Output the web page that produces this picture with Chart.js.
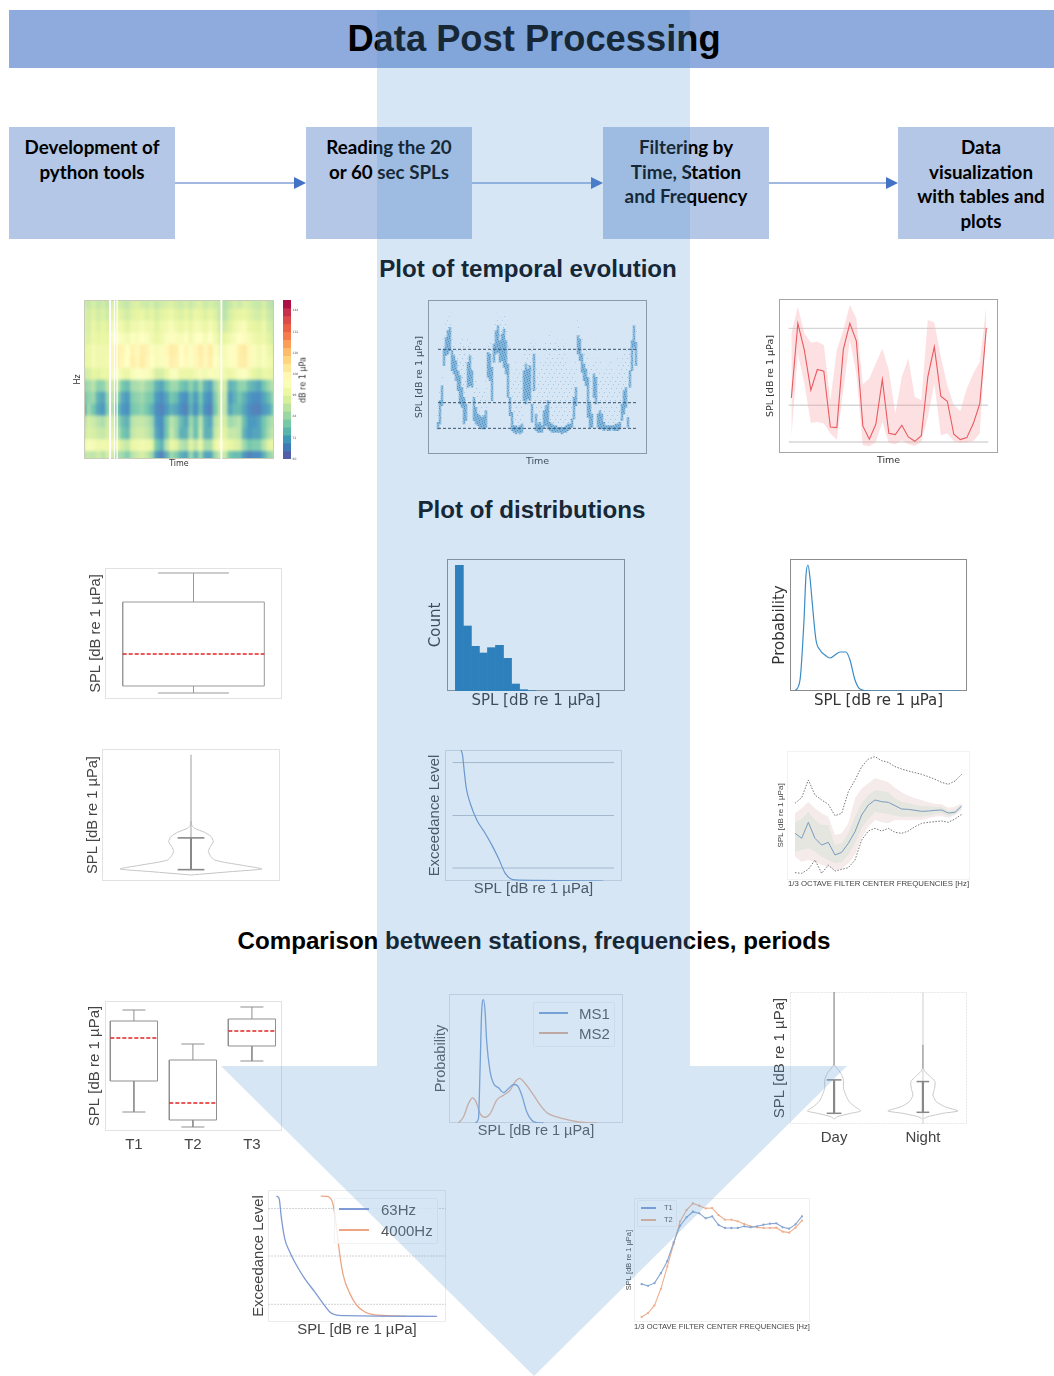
<!DOCTYPE html>
<html><head><meta charset="utf-8">
<style>
html,body{margin:0;padding:0;background:#fff;}
#page{position:relative;width:1054px;height:1376px;overflow:hidden;background:#fff;}
.abs{position:absolute;}
canvas{position:absolute;display:block;}
.bar{left:9px;top:10px;width:1045px;height:58px;background:#8faadc;}
.title{left:9px;top:10px;width:1050px;height:58px;text-align:center;font:bold 36.3px/58px "Liberation Sans";color:#000;white-space:nowrap;}
.step{background:#b4c7e7;top:127px;height:112px;font:bold 18.8px/24.5px Lato;color:#000;text-align:center;padding-top:8px;box-sizing:border-box;}
.head{font:bold 24.15px/28px "Liberation Sans";color:#000;white-space:nowrap;text-align:center;}
.rot{transform:translate(-50%,-50%) rotate(-90deg);white-space:nowrap;}
.legend{border:1px solid rgba(190,198,210,.22);box-sizing:border-box;border-radius:2px;background:rgba(255,255,255,.8);}
.lg{position:absolute;white-space:nowrap;font-family:"Liberation Sans";color:#555;line-height:1;transform:translateY(-50%);filter:blur(.35px);}
.ln{position:absolute;height:1.5px;filter:blur(.4px);}
</style>
<script src="https://cdn.jsdelivr.net/npm/chart.js@4"></script>
</head><body>
<div id="page">
  <div class="abs bar"></div>
  <div class="abs title">Data Post Processing</div>
  <div class="abs step" style="left:9px;width:166px">Development of<br>python tools</div>
  <div class="abs step" style="left:306px;width:166px">Reading the 20<br>or 60 sec SPLs</div>
  <div class="abs step" style="left:603px;width:166px">Filtering by<br>Time, Station<br>and Frequency</div>
  <div class="abs step" style="left:898px;width:166px">Data<br>visualization<br>with tables and<br>plots</div>
  <svg class="abs" style="left:0;top:0" width="1054" height="260">
    <g stroke="#4472c4" stroke-width="1.2"><line x1="175" y1="183" x2="296" y2="183"/><line x1="472" y1="183" x2="593" y2="183"/><line x1="769" y1="183" x2="888" y2="183"/></g>
    <g fill="#4472c4"><polygon points="294,177 306,183 294,189"/><polygon points="591,177 603,183 591,189"/><polygon points="886,177 898,183 886,189"/></g>
  </svg>
  <div class="abs head" style="left:0;width:1056px;top:255px">Plot of temporal evolution</div>
  <div class="abs head" style="left:0;width:1063px;top:496px">Plot of distributions</div>
  <div class="abs head" style="left:0;width:1068px;top:927px">Comparison between stations, frequencies, periods</div>
  <div class="abs rot" style="left:303px;top:380px;font:8px 'DejaVu Sans';color:#333;filter:blur(.3px)">dB re 1 µPa</div>
  <div id="chartsEnd"></div>

  <div class="abs legend" style="left:533px;top:1002px;width:82px;height:45px"></div>
  <div class="ln" style="left:539px;top:1012px;width:29px;background:#7fa3d8"></div>
  <div class="ln" style="left:539px;top:1032px;width:29px;background:#e0ab93"></div>
  <div class="lg" style="left:579px;top:1013px;font-size:15px">MS1</div>
  <div class="lg" style="left:579px;top:1033px;font-size:15px">MS2</div>

  <div class="abs legend" style="left:334px;top:1198px;width:104px;height:46px"></div>
  <div class="ln" style="left:339px;top:1208px;width:30px;background:#7f9ad4"></div>
  <div class="ln" style="left:339px;top:1229px;width:30px;background:#eda583"></div>
  <div class="lg" style="left:381px;top:1209px;font-size:15px">63Hz</div>
  <div class="lg" style="left:381px;top:1230px;font-size:15px">4000Hz</div>

  <div class="abs legend" style="left:637px;top:1200px;width:40px;height:27px"></div>
  <div class="ln" style="left:641px;top:1207px;width:15px;background:#7d9fd4"></div>
  <div class="ln" style="left:641px;top:1219px;width:15px;background:#eeb08e"></div>
  <div class="lg" style="left:664px;top:1208px;font-size:7.5px">T1</div>
  <div class="lg" style="left:664px;top:1220px;font-size:7.5px">T2</div>

  <svg class="abs" id="arrow" style="left:0;top:0;z-index:50;pointer-events:none" width="1054" height="1376">
    <polygon points="377,10 690,10 690,1066 847,1066 534,1376 221,1066 377,1066" fill="#5b9bd5" fill-opacity="0.25"/>
  </svg>
</div>
<script>
/* ---------- values ---------- */
// spectrogram levels (dB), one list per frequency row, top row first
const heatRows = [
[91,90,93,90,92,89,94,93,91,90,93,94,92,91,93,90,92,93,94,92,91,93,91,93,94,91,93,91,90,87,90,93,91,94,93,91,90,93,89,87],
[94,92,95,92,94,91,96,96,94,92,95,96,97,94,96,93,95,96,98,95,94,96,94,97,96,94,96,94,90,88,93,95,96,97,95,93,92,95,91,89],
[95,93,97,94,96,94,101,100,98,95,99,99,101,99,99,95,98,100,102,99,97,100,97,101,100,97,101,97,92,92,95,98,101,102,97,96,95,98,93,91],
[95,94,98,96,97,96,104,105,102,100,104,102,105,103,100,97,99,103,106,103,101,104,100,104,105,101,105,100,95,96,99,102,105,106,101,99,97,99,95,92],
[96,97,101,99,99,99,108,110,108,105,109,107,110,109,104,102,103,107,111,110,105,108,104,108,111,107,111,104,100,101,104,106,110,112,107,103,100,103,98,95],
[96,97,101,99,99,100,108,110,107,105,110,108,111,108,105,102,103,106,110,109,105,107,104,107,110,107,110,105,102,101,104,106,110,111,107,103,100,103,100,97],
[91,93,96,95,97,97,102,103,98,97,102,104,104,103,100,93,93,97,103,103,97,98,97,100,102,100,103,102,101,99,97,100,103,104,100,96,94,97,97,95],
[81,85,88,81,82,90,92,90,78,76,85,86,88,84,82,74,72,78,84,84,78,76,82,76,84,74,72,84,92,93,74,76,82,82,76,74,72,78,84,88],
[76,82,84,74,72,84,90,82,72,70,80,82,84,80,78,70,68,72,78,76,70,68,76,70,78,70,68,80,90,91,70,74,78,74,70,68,68,72,76,84],
[72,84,78,72,70,82,88,76,70,68,78,80,82,78,74,68,66,70,74,72,68,66,74,68,76,68,66,78,90,90,72,76,76,72,68,66,66,70,72,80],
[86,93,91,88,86,92,93,84,76,74,88,90,90,88,84,70,68,78,88,84,76,72,84,76,88,74,72,88,93,93,84,86,88,76,70,70,72,78,84,88],
[89,94,93,91,90,93,95,88,78,76,90,92,92,90,86,72,68,78,90,84,74,74,86,76,90,74,74,90,95,95,90,90,88,74,70,72,72,78,86,90],
[98,102,101,99,99,99,99,96,92,90,97,99,100,99,96,78,74,88,97,95,88,86,95,90,97,86,86,97,102,100,97,95,93,84,78,80,80,88,95,97],
[88,90,89,92,88,93,92,86,84,80,88,91,93,90,84,70,66,74,84,80,74,72,84,74,84,72,72,84,91,91,78,76,76,70,66,68,68,74,82,86]
];
const heatGaps = [5.85, 6.75, 7.3, 28.7];
const heatGapWidths = [2, 1, 1.2, 1.8];
const cbarLevels = [60,64.5,69,73.5,78,82.5,87,91.5,96,100.5,105,109.5,114,118.5,123,127.5,132,136.5,141,145.5];
const spectral = ['#5e4fa2','#3288bd','#66c2a5','#abdda4','#e6f598','#ffffbf','#fee08b','#fdae61','#f46d43','#d53e4f','#9e0142'];

// time-series scatter: per time slot, dense SPL range and sparse upper limit
const coreHi = [79,92,101,123,130,134,136,122,119,116,110,107,100,94,90,115,119,110,94,88,84,83,82,83,86,121,120,112,126,134,137,128,132,135,128,114,94,85,77,77,76,77,78,110,114,111,113,90,120,84,78,79,77,86,89,92,79,78,77,77,76,76,76,76,77,78,78,81,94,100,131,129,120,114,111,106,90,84,108,106,84,86,84,79,77,77,77,77,77,78,78,79,90,98,100,82,110,128,137,127];
const coreLo = [75,78,89,113,119,120,122,110,108,104,98,90,88,78,80,100,101,100,80,78,77,76,75,75,76,106,104,92,115,120,121,115,116,112,108,94,83,74,73,72,73,72,73,92,90,93,92,79,98,74,73,73,73,76,77,75,74,73,73,73,73,73,72,73,73,74,75,76,81,89,120,116,109,104,101,82,76,76,94,90,76,75,75,74,75,74,74,75,74,74,74,75,80,84,88,76,100,110,124,113];
const sparseHi = [85,100,110,130,138,142,146,135,128,122,122,128,130,125,120,130,128,118,108,104,100,98,96,98,104,128,130,124,134,142,146,142,140,144,140,125,112,105,108,120,112,108,116,122,124,122,128,124,130,120,110,116,112,118,128,124,134,120,118,130,128,126,120,130,118,112,110,112,110,116,140,136,130,122,126,124,112,114,118,126,110,116,108,112,114,110,118,112,108,110,118,112,118,122,126,118,122,132,142,134];
const percentileLines = [122.8, 90.8, 75.4];

// red mean line + band
const meanSPL = [93,137.6,121.6,97.6,110,109,75.6,75.2,122,137.6,127.2,76.2,68.2,77.2,104,71.8,71,76.6,69.6,67,70.4,105.6,123.6,94,91,71.2,68,69.2,77.6,89.6,134.6];
const bandHigh = [131.6,147.6,131.6,126.2,126.6,124.6,91.6,121.6,133.6,148.6,140.6,101.2,104.6,113.6,122.6,109.6,83.6,105.6,116.6,93.6,91.6,139.6,138.2,117.6,100.6,88.6,85.2,98.6,107.6,114.6,147.6];
const bandLow = [69.6,119.6,101.6,78,78.6,77.6,71.6,68,97.6,127.6,107.6,64.6,64,66.6,78.6,66.2,65.2,67.6,65.2,64.4,66.6,81.6,101.6,70.6,71.6,67.2,66,66.4,67.2,71.6,134.6];
const refLevels = [134.6,88.6,66.6];

// single box plot
const boxStats = {lo:63,q1:66.5,med:82.5,q3:108.5,hi:123};

// histogram
const histBins = [0,1,2,3,4,5,6,7,8,9];
const histCounts = [377,195,134,114,130,137,98,21,4,1];

// probability density
const kdeX = [62.5,65,67,68,69,70,71,73,75,77.5,80,82.5,85,88,90,92.5,95,100,145];
const kdeY = [0,11,71,116,126,113,91,51,41,36,33,36,39,39,31,11,2,0,0];

// single violin
const vioY = [63.6,65.6,67.2,69.2,71.2,72.6,74.6,77.6,80.6,83.6,86.6,89.2,91.6,93.6,95.6];
const vioW = [0,120,213,160,100,70,60,52,58,67,60,40,10,2,1];
const vioStats = {top:135.6,hi:85.8,lo:66.8};

// exceedance curve
const excX = [68,68.8,69.7,70.7,72.7,76,80.2,83.5,86.8,90.2,92.7,95.2,106,139.3];
const excY = [100,96,83,70.6,59,46.4,36.3,27.4,17.3,5.8,2,0.8,0.5,0];
const excLevels = [90.4,50,9.9];

// 1/3-octave statistics
const octMedian = [93.75,90,102,90,85,87,77.5,79.5,86.25,95,107.5,115,118.75,117.5,117,114.5,112,111.75,111,110.25,110.5,111,111.25,109,109.5,114.25];
const octMax = [116.25,120.5,133.75,122.5,118.75,115.5,107,108.75,125,133.75,143.75,149.5,151.25,148.25,147,143.75,142,140.5,139.25,138,136.25,134.25,132,130.5,133,138];
const octMin = [64.25,63.75,66.75,73.75,63.75,70,65.5,66.75,68,73.75,88.75,95.5,97.5,95.5,97.5,94.5,93.75,95.5,98.75,101.25,102,102.5,103,102,104.5,108];
const octOuterHi = [108.75,112.5,117.5,112.5,108.75,106.25,92.5,93.75,101.25,120,127.5,131.25,135,133.75,132,128,124.5,122,120,118.75,117,116,115.5,113,113.75,116.25];
const octOuterLo = [76.25,72.5,73.75,72.5,70,68.75,66.25,67,71.25,77.5,90,98.75,103.75,102,101.25,103.75,103.75,103.5,103.75,103.75,105,106.25,106.75,105.5,107.5,111.25];
const octInnerHi = [102,104.5,110,103.75,100,100,85,86.25,93.75,106.25,116.25,122.5,126.25,125.5,124.5,120,117.5,116.25,115,114.5,114,113.75,113.75,110.5,111.25,115];
const octInnerLo = [80,81.25,82.5,80,76.25,73.75,71.25,72,77.5,86.25,97.5,104.5,110,108.75,108.25,107,106.25,106.25,106.25,106.25,107,108,108.75,106.75,108,112.5];

// comparison: boxes
const stationNames = ['T1','T2','T3'];
const stationStats = [
 {lo:69.5,q1:85,med:106.5,q3:115,hi:120.5},
 {lo:62,q1:65.5,med:74,q3:95.5,hi:103.5},
 {lo:95,q1:102.5,med:110,q3:116,hi:122}
];
// comparison: MS1 / MS2
const ms1X = [73,74.7,75.5,76.3,77.2,78,78.8,80.5,82.2,84.7,87.2,89.7,92.2,94.2,96.3,98.8,101.3,103.8,107.2];
const ms1Y = [0,4.3,54.3,111,122.7,111,81,51,39.3,35,30.3,34.3,38.3,37,27.7,11,2.7,0.3,0];
const ms2X = [64.7,67.2,69.7,71.8,73.5,75.5,78,80.5,83.8,87.2,90.5,93,95.2,98,102.2,105.5,108.8,113.8,120.5,128.8,133.8];
const ms2Y = [0,6,19.3,25,21,9.3,5.7,9.3,22.7,27.7,32.7,41,44.3,39.3,27.7,17.7,10.3,6,2.7,0.3,0];
// comparison: Day / Night violins
const periodNames = ['Day','Night'];
const vioDayY = [63,64.4,66.4,67.8,70.4,73.4,77.4,81.4,86.4,90.4,93.4,95.4];
const vioDayW = [0,10,50,80,62,45,35,28,28,20,8,1];
const vioNightY = [63,64.4,66.4,67.8,70.4,73.4,77.4,81.4,85.4,88.4,91.4,93.4];
const vioNightW = [0,15,60,105,65,40,30,35,36,22,6,1];
// comparison: 63 Hz / 4000 Hz
const ex63X = [64.2,65.5,66.7,68.3,70.8,74.2,78.3,83.3,87.5,90.8,93.3,99.2,144.2];
const ex63Y = [95.4,93.7,78.5,63.3,53.2,43,32.9,22.8,13.9,7.6,5.6,4.8,4.3];
const ex4kX = [86.3,90,92.5,94.2,95.8,97.5,100.8,104.2,108.3,112.5,119.2,129.2];
const ex4kY = [95.4,94.9,88.6,70.9,50.6,35.4,21.5,12.7,7.6,5.6,4.8,4.3];
const ex2Levels = [86,50,13.4];
// comparison: T1 / T2 spectra
const octT1 = [89.75,88.5,90.5,98,107,121.25,133.75,140,144.25,143,139.25,140.75,134.25,132,132,132,133.25,132.5,133.25,134.5,135.25,135.5,132.5,131.5,134.75,140.75];
const octT2 = [65,68,73.75,86.25,103,120,137,145.5,150.5,148.75,146.75,147,141.75,138.25,138.25,137,135,133.25,132.5,132,132,132.25,129.25,128.5,132.25,137.5];

const SPL = 'SPL [dB re 1 µPa]';
const OCT = '1/3 OCTAVE FILTER CENTER FREQUENCIES [Hz]';

/* ---------- helpers ---------- */
Chart.register({id:'frame',beforeDatasetsDraw(c,a,o){
  if(!o||!o.color)return; const A=c.chartArea,x=c.ctx;
  x.save();x.strokeStyle=o.color;x.lineWidth=o.width||1;if(o.dash)x.setLineDash(o.dash);
  x.strokeRect(Math.round(A.left)+.5,Math.round(A.top)+.5,Math.round(A.width)-1,Math.round(A.height)-1);x.restore();
}});
const page=document.getElementById('page');
const mark=document.getElementById('chartsEnd');
function panel(f,o){
  const fs=o.size||14, lh=fs*1.2, fam=o.family||'"Liberation Sans"', col=o.color||'#444';
  const left=o.yTitle?Math.round(o.yTitleX-lh/2):f.l-4;
  const bottom=o.xTitle?Math.round(o.xTitleY+lh/2):(o.xNames?f.b+24:f.b+4);
  const top=f.t-4,right=f.r+4;
  const cv=document.createElement('canvas');
  cv.width=right-left;cv.height=bottom-top;
  cv.style.cssText=`left:${left}px;top:${top}px;width:${right-left}px;height:${bottom-top}px;`+(o.blur?`filter:blur(${o.blur}px);`:'')+(o.css||'');
  page.insertBefore(cv,mark);
  const xs={type:'linear',min:o.x[0],max:o.x[1],offset:false,grid:{display:false,drawTicks:false},border:{display:false},
    ticks:{display:false},afterFit:s=>{s.height=bottom-f.b;}};
  if(o.xTitle)xs.title={display:true,text:o.xTitle,font:{size:o.xSize||fs,family:fam},color:col,padding:0};
  if(o.xNames){
    xs.afterBuildTicks=s=>{s.ticks=o.xPos.map(v=>({value:v}));};
    xs.ticks={display:true,autoSkip:false,maxRotation:0,padding:5,font:{size:fs,family:fam},color:col,callback:v=>o.xNames[o.xPos.indexOf(v)]};
  }
  const ys={type:'linear',min:o.y[0],max:o.y[1],reverse:!!o.yRev,offset:false,grid:{display:false,drawTicks:false},border:{display:false},
    ticks:{display:false},afterFit:s=>{s.width=f.l-left;}};
  if(o.yTitle)ys.title={display:true,text:o.yTitle,font:{size:fs,family:fam},color:col,padding:0};
  return new Chart(cv,{type:o.type||'line',data:{datasets:o.sets||[]},options:{
    responsive:false,animation:false,events:[],devicePixelRatio:1,
    layout:{padding:{top:4,right:4,left:0,bottom:0}},
    elements:{point:{radius:0},line:{borderWidth:1.2,fill:false}},
    plugins:{legend:{display:false},tooltip:{enabled:false},frame:{color:o.frame,dash:o.frameDash}},
    scales:{x:xs,y:ys}
  }});
}
const pts=(xa,ya)=>ya.map((v,i)=>({x:xa?xa[i]:i,y:v}));
const flat=(ya,x0,x1)=>[{x:x0,y:ya},{x:x1,y:ya}];
const L=(data,color,width,extra)=>Object.assign({type:'line',data,borderColor:color,borderWidth:width||1.2,backgroundColor:'transparent'},extra||{});
function boxSets(s,c,hw,capw,col,lw){
  return [
    L(flat(s.med,c-hw,c+hw),'#e52222',1.4,{borderDash:[4,2]}),
    L([{x:c-hw,y:s.q1},{x:c+hw,y:s.q1},{x:c+hw,y:s.q3},{x:c-hw,y:s.q3},{x:c-hw,y:s.q1}],col,lw),
    L([{x:c,y:s.q3},{x:c,y:s.hi}],col,lw),L([{x:c,y:s.q1},{x:c,y:s.lo}],col,lw),
    L(flat(s.hi,c-capw,c+capw),col,lw),L(flat(s.lo,c-capw,c+capw),col,lw)
  ];
}
function violinOutline(ya,wa,c){
  const r=ya.map((y,i)=>({x:c+wa[i],y}));
  const l=ya.map((y,i)=>({x:c-wa[i],y})).reverse();
  return r.concat(l);
}
function cmap(v){
  const t=Math.max(0,Math.min(1,(v-60)/90))*10,i=Math.min(9,Math.floor(t)),f=t-i;
  const h=s=>[1,3,5].map(k=>parseInt(s.substr(k,2),16));
  const a=h(spectral[i]),b=h(spectral[i+1]);
  return `rgb(${a.map((q,k)=>Math.round(q+(b[k]-q)*f)).join(',')})`;
}
// fixed speckle fills that give the stacked time slots a scattered look
function speckle(w,h,base,dots,color){
  const c=document.createElement('canvas');c.width=w;c.height=h;const x=c.getContext('2d');
  if(base){x.fillStyle=base;x.fillRect(0,0,w,h);}
  x.fillStyle=color;dots.forEach(d=>x.fillRect(d[0],d[1],1,1));
  return x.createPattern(c,'repeat');
}
const coreFill=speckle(5,7,'rgba(31,119,180,.42)',[[0,0],[3,1],[1,2],[4,3],[2,4],[0,5],[3,6]],'rgba(31,119,180,.55)');
const sparseFill=speckle(5,19,null,[[0,1],[1,9],[3,5],[4,12],[2,16]],'rgba(31,119,180,.26)');

/* ---------- temporal evolution ---------- */
const heatSets=[];
heatRows.forEach((row,r)=>heatSets.push({type:'bar',clip:false,grouped:false,barPercentage:1,categoryPercentage:1,
  data:row.map((v,c)=>({x:c+.5,y:[r,r+1]})),backgroundColor:row.map(cmap),borderWidth:0}));
panel({l:84,t:300,r:274,b:459},{type:'bar',x:[0.5,39.5],y:[0.3,13.7],yRev:true,sets:heatSets,blur:1.7,css:'clip-path:inset(4px 4px 4px 4px);opacity:.9;'});
panel({l:84,t:300,r:274,b:459},{x:[0.5,39.5],y:[0,1],frame:'#c9cdb8',xTitle:'Time',xTitleY:464.5,yTitle:'Hz',yTitleX:78,size:8,family:'"DejaVu Sans"',color:'#333',blur:.3,
  sets:heatGaps.map((g,i)=>({type:'line',data:[{x:g,y:0},{x:g,y:1}],borderColor:'#fff',borderWidth:heatGapWidths[i]}))});
// colour bar
(function(){
  const cv=document.createElement('canvas');cv.width=24;cv.height=167;
  cv.style.cssText='left:279px;top:296px;width:24px;height:167px;filter:blur(.3px);';
  page.insertBefore(cv,mark);
  new Chart(cv,{type:'bar',data:{datasets:[{grouped:false,barPercentage:1,categoryPercentage:1,
     data:cbarLevels.map(v=>({x:.5,y:[v,v+4.5]})),backgroundColor:cbarLevels.map(v=>cmap(v+2.25)),borderWidth:0}]},
   options:{responsive:false,animation:false,events:[],devicePixelRatio:1,layout:{padding:{top:4,left:4,right:0,bottom:4}},
    plugins:{legend:{display:false},tooltip:{enabled:false}},
    scales:{x:{type:'linear',min:0,max:1,offset:false,display:true,ticks:{display:false},grid:{display:false,drawTicks:false},border:{display:false},afterFit:s=>{s.height=0;}},
     y:{position:'right',min:60,max:150,grid:{display:false,drawTicks:false},border:{display:false},
        afterBuildTicks:s=>{s.ticks=[60,72,84,96,108,120,132,144].map(v=>({value:v}));},
        ticks:{font:{size:3,family:'"DejaVu Sans"'},color:'#555',padding:1.5},afterFit:s=>{s.width=12;}}}}});
})();

const scatterSets=percentileLines.map(v=>L(flat(v,0,99.5),'#2f3f4f',1,{borderDash:[3,2]}));
scatterSets.push({type:'bar',grouped:false,barPercentage:1,categoryPercentage:1,backgroundColor:coreFill,data:coreHi.map((v,i)=>({x:i,y:[coreLo[i],v]}))});
scatterSets.push({type:'bar',grouped:false,barPercentage:1,categoryPercentage:1,backgroundColor:sparseFill,data:sparseHi.map((v,i)=>({x:i,y:[coreHi[i],v]}))});
panel({l:428,t:300,r:647,b:454},{type:'bar',x:[-5,104.5],y:[60,152.4],sets:scatterSets,frame:'#9a9a9a',xTitle:'Time',xTitleY:461,yTitle:SPL,yTitleX:420,size:9.5,family:'"DejaVu Sans"',color:'#333',blur:.5});

const meanSets=[L(pts(null,meanSPL),'#ea5a5f',1.1),
  {type:'line',data:pts(null,bandHigh),borderWidth:0,borderColor:'transparent',backgroundColor:'rgba(247,160,165,.32)',fill:'+1'},
  {type:'line',data:pts(null,bandLow),borderWidth:0,borderColor:'transparent'}];
refLevels.forEach(v=>meanSets.push(L(flat(v,-0.4,30.3),'rgba(150,150,150,.4)',1.3)));
panel({l:779,t:299,r:998,b:453},{x:[-1.9,31.8],y:[60,152.2],sets:meanSets,frame:'#a5a5a5',xTitle:'Time',xTitleY:460,yTitle:SPL,yTitleX:771,size:9.5,family:'"DejaVu Sans"',color:'#333',blur:.45});

/* ---------- distributions ---------- */
panel({l:105,t:568,r:282,b:699},{x:[-.5,.5],y:[60,125.5],sets:boxSets(boxStats,0,.4,.2,'#999',1),frame:'#e2e2e2',yTitle:SPL,yTitleX:96,size:14.8,color:'#444',blur:.3});

panel({l:447,t:559,r:625,b:691},{type:'bar',x:[0,22.17],y:[0,396],frame:'#8c8c8c',xTitle:SPL,xTitleY:701,yTitle:'Count',yTitleX:436,size:15,family:'"DejaVu Sans"',color:'#333',blur:.25,
  sets:[{type:'bar',barPercentage:1,categoryPercentage:1,backgroundColor:'#1f77b4',data:histCounts.map((v,i)=>({x:histBins[i]+1.54,y:v}))}]});

panel({l:790,t:559,r:967,b:691},{x:[60,148.5],y:[0,132],frame:'#8c8c8c',xTitle:SPL,xTitleY:701,yTitle:'Probability',yTitleX:780,size:15,family:'"DejaVu Sans"',color:'#333',blur:.25,
  sets:[L(pts(kdeX,kdeY),'#3a8cc6',1.2,{cubicInterpolationMode:'monotone'})]});

panel({l:102,t:749,r:280,b:881},{x:[-267,267],y:[60,139],frame:'#e2e2e2',yTitle:SPL,yTitleX:93,size:14.7,color:'#444',blur:.3,
  sets:[
   L([{x:0,y:vioStats.hi},{x:0,y:vioStats.lo}],'#888',2),
   L(flat(vioStats.hi,-40,40),'#888',1.6),L(flat(vioStats.lo,-40,40),'#888',1.6),
   L([{x:0,y:vioStats.top},{x:0,y:vioStats.lo}],'#b0b0b0',1.2),
   L(violinOutline(vioY,vioW,0),'#c4c4c4',1,{tension:.2})]});

const excSets=[L(pts(excX,excY),'#6f96cc',1.2,{cubicInterpolationMode:'monotone'})];
excLevels.forEach(v=>excSets.push(L(flat(v,63.8,144.7),'#bcc3cb',1)));
panel({l:445,t:750,r:622,b:881},{x:[60,148.7],y:[0,100],frame:'#d9dde1',xTitle:SPL,xTitleY:889,yTitle:'Exceedance Level',yTitleX:435,size:14.9,color:'#444',blur:.3,sets:excSets});

panel({l:787,t:751,r:970,b:880},{x:[-1.2,26.25],y:[58.75,155.5],frame:'#f2f2f2',xTitle:OCT,xTitleY:884,xSize:7.8,yTitle:SPL,yTitleX:781,size:8,color:'#444',blur:.5,
  sets:[
   L(pts(null,octMedian),'#7a9cc0',1),
   L(pts(null,octMax),'#666',.9,{borderDash:[1.5,1.5]}),
   L(pts(null,octMin),'#666',.9,{borderDash:[1.5,1.5]}),
   {type:'line',data:pts(null,octInnerHi),borderWidth:0,borderColor:'transparent',backgroundColor:'#e4e6df',fill:'+1'},
   {type:'line',data:pts(null,octInnerLo),borderWidth:0,borderColor:'transparent'},
   {type:'line',data:pts(null,octOuterHi),borderWidth:0,borderColor:'transparent',backgroundColor:'#f6ebeb',fill:'+1'},
   {type:'line',data:pts(null,octOuterLo),borderWidth:0,borderColor:'transparent'}
  ]});

/* ---------- comparisons ---------- */
let stSets=[];stationStats.forEach((s,i)=>{stSets=stSets.concat(boxSets(s,i,.4,.195,'#8f8f8f',1));});
panel({l:105,t:1001,r:282,b:1131},{x:[-.49,2.51],y:[60,125],sets:stSets,frame:'#e2e2e2',xNames:stationNames,xPos:[0,1,2],yTitle:SPL,yTitleX:95,size:15,color:'#444',blur:.35});

panel({l:449,t:994,r:623,b:1123},{x:[60,146.8],y:[0,128.3],frame:'#dcdfe3',xTitle:SPL,xTitleY:1131,yTitle:'Probability',yTitleX:441,size:14.5,color:'#555',blur:.5,
  sets:[L(pts(ms1X,ms1Y),'#7fa3d8',1.3,{cubicInterpolationMode:'monotone'}),L(pts(ms2X,ms2Y),'#e8b39a',1.3,{cubicInterpolationMode:'monotone'})]});

panel({l:790,t:992,r:967,b:1124},{x:[-132,398],y:[60,139],frame:'#e6e6e6',frameDash:[2,1],xNames:periodNames,xPos:[0,266],yTitle:SPL,yTitleX:780,size:15,color:'#444',blur:.45,
  sets:[
   L([{x:0,y:86.4},{x:0,y:66.4}],'#888',2.2),L(flat(86.4,-22,22),'#888',1.5),L(flat(66.4,-22,22),'#888',1.5),
   L([{x:0,y:139},{x:0,y:95}],'#999',1.4),
   L(violinOutline(vioDayY,vioDayW,0),'#c8c8c8',1,{tension:.2}),
   L([{x:266,y:85.4},{x:266,y:67}],'#888',2.2),L(flat(85.4,247,285),'#888',1.5),L(flat(67,247,285),'#888',1.5),
   L([{x:266,y:107.4},{x:266,y:93}],'#999',1.2),L([{x:266,y:139},{x:266,y:60}],'#e2e2e2',1),
   L(violinOutline(vioNightY,vioNightW,266),'#c8c8c8',1,{tension:.2})]});

const ex2Sets=[L(pts(ex63X,ex63Y),'#7f9ad4',1.3,{cubicInterpolationMode:'monotone'}),L(pts(ex4kX,ex4kY),'#eda583',1.3,{cubicInterpolationMode:'monotone'})];
ex2Levels.forEach(v=>ex2Sets.push(L(flat(v,60,148.7),'#d2d2d2',1,{borderDash:[2,1]})));
panel({l:268,t:1190,r:446,b:1322},{x:[60,148.7],y:[0,100],frame:'#ebebeb',xTitle:SPL,xTitleY:1330,yTitle:'Exceedance Level',yTitleX:259,size:14.9,color:'#444',blur:.5,sets:ex2Sets});

panel({l:634,t:1197,r:811,b:1322},{x:[-1.19,26.24],y:[61.25,154.5],frame:'#efefef',xTitle:OCT,xTitleY:1327,xSize:7.8,yTitle:SPL,yTitleX:628,size:7.5,color:'#444',blur:.5,
  sets:[L(pts(null,octT1),'#86a5d2',1.1,{pointRadius:.6,pointBackgroundColor:'#86a5d2'}),L(pts(null,octT2),'#eeb08e',1.1,{pointRadius:.6,pointBackgroundColor:'#eeb08e'})]});
</script>
</body></html>
